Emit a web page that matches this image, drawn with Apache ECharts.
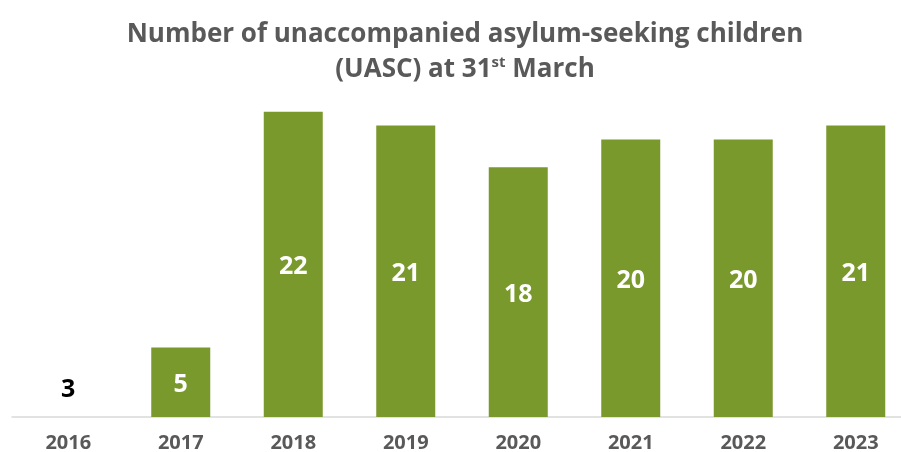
<!DOCTYPE html>
<html>
<head>
<meta charset="utf-8">
<script src="https://cdn.jsdelivr.net/npm/echarts@6/dist/echarts.min.js"></script>
<style>html,body{margin:0;padding:0;background:#fff}#c{width:901px;height:452px}</style>
</head>
<body>
<div id="c"></div>
<script>
const categories = ['2016','2017','2018','2019','2020','2021','2022','2023'];
const values = [3, 5, 22, 21, 18, 20, 20, 21];

const chart = echarts.init(document.getElementById('c'), null, {renderer: 'canvas'});
const FONT = 'Open Sans';
const data = values.map((v, i) => i === 0
  ? {value: v, itemStyle: {color: 'rgba(255,255,255,0)'}, label: {color: '#000000', offset: [0, -6]}}
  : {value: v});

chart.setOption({
  animation: false,
  backgroundColor: '#ffffff',
  title: {
    left: 460,
    top: 12,
    textAlign: 'center',
    text: '{a|Number of unaccompanied asylum-seeking children}\n{a|(UASC) at 31}{s|st}{a| March}',
    textStyle: {
      rich: {
        a: {fontFamily: FONT, fontWeight: 'bold', fontSize: 26, color: '#595959', lineHeight: 35},
        s: {fontFamily: FONT, fontWeight: 'bold', fontSize: 15, color: '#595959', lineHeight: 35, verticalAlign: 'top', padding: [3, 0, 0, 0]}
      }
    }
  },
  grid: {left: 12, right: -11, top: 70, bottom: 35, containLabel: false, outerBoundsMode: 'none'},
  xAxis: {
    type: 'category',
    data: categories,
    axisLine: {lineStyle: {color: '#d9d9d9', width: 1.5}},
    axisTick: {show: false},
    axisLabel: {fontFamily: FONT, fontWeight: 'bold', fontSize: 20, color: '#595959', margin: 16}
  },
  yAxis: {
    type: 'value',
    min: 0,
    max: 25,
    show: false,
    splitLine: {show: false}
  },
  series: [{
    type: 'bar',
    data: data,
    barWidth: 59,
    itemStyle: {color: '#7A992D'},
    label: {
      show: true,
      position: 'inside',
      offset: [0, 3],
      fontFamily: FONT,
      fontWeight: 'bold',
      fontSize: 25,
      color: '#ffffff'
    }
  }]
});
</script>
</body>
</html>
